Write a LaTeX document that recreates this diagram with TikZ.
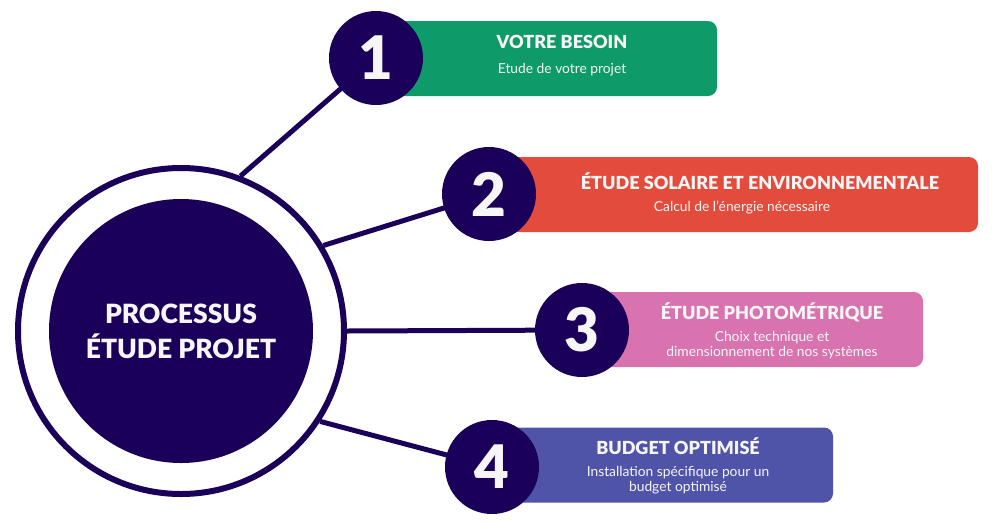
\documentclass[tikz,border=0pt]{standalone}
\usepackage{fontspec}
\setmainfont{Lato}
\newfontfamily\heavyfont{Lato Black}
\definecolor{navy}{HTML}{1B0059}
\definecolor{cgreen}{HTML}{0F9B69}
\definecolor{cred}{HTML}{E34C3D}
\definecolor{cpink}{HTML}{D873B0}
\definecolor{cblue}{HTML}{4F54A8}
\definecolor{offwhite}{HTML}{F6F6F6}
\pgfdeclarelayer{background}
\pgfsetlayers{background,main}
\begin{document}
\begin{tikzpicture}[x=1pt,y=-1pt,
  stepbox/.style={rectangle, rounded corners=9pt, inner sep=0pt, minimum height=75pt},
  numcirc/.style={circle, fill=navy, minimum size=94pt, inner sep=0pt, text=offwhite,
    font=\heavyfont\fontsize{60}{60}\selectfont},
  ttl/.style={text=offwhite, font=\heavyfont\fontsize{18}{20}\selectfont, inner sep=0pt},
  sub/.style={text=offwhite, font=\fontsize{13.8}{15.5}\selectfont, align=center, inner sep=0pt},
  link/.style={draw=navy, line width=5pt}]
\useasboundingbox (0,0) rectangle (996,523);
% boxes
\node[stepbox, fill=cgreen, minimum width=337pt] (b1) at (548.5,58.5) {};
\node[stepbox, fill=cred, minimum width=483pt] (b2) at (736.5,194.5) {};
\node[stepbox, fill=cpink, minimum width=333pt] (b3) at (756.5,329.5) {};
\node[stepbox, fill=cblue, minimum width=328pt] (b4) at (669,465) {};
% texts
\node[ttl] (t1) at (562,42) {VOTRE BESOIN};
\node[sub] (s1) at (562,70) {Etude de votre projet};
\node[ttl] (t2) at (760,181) {ÉTUDE SOLAIRE ET ENVIRONNEMENTALE};
\node[sub] (s2) at (742,207) {Calcul de l'énergie nécessaire};
\node[ttl] (t3) at (772,312) {ÉTUDE PHOTOMÉTRIQUE};
\node[sub] (s3) at (772,345) {Choix technique et\\dimensionnement de nos systèmes};
\node[ttl] (t4) at (678,446) {BUDGET OPTIMISÉ};
\node[sub] (s4) at (678,480) {Installation spécifique pour un\\budget optimisé};
% central circle
\node[circle, draw=navy, line width=6pt, minimum size=326pt, inner sep=0pt] (ring) at (181,331) {};
\node[circle, fill=navy, minimum size=264pt, inner sep=0pt, text=offwhite, align=center,
  font=\heavyfont\fontsize{26.5}{35}\selectfont] (core) at (181,331) {PROCESSUS\\ÉTUDE PROJET};
% number circles
\node[numcirc] (c1) at (376,58) {1};
\node[numcirc] (c2) at (489,194) {2};
\node[numcirc] (c3) at (582,330) {3};
\node[numcirc] (c4) at (492,467) {4};
% links
\begin{pgfonlayer}{background}
\draw[link] (ring.69.5) -- (c1.center);
\draw[link] (ring.31) -- (c2.center);
\draw[link] (ring.0) -- (c3.center);
\draw[link] (ring.-33) -- (c4.center);
\end{pgfonlayer}
\end{tikzpicture}
\end{document}
